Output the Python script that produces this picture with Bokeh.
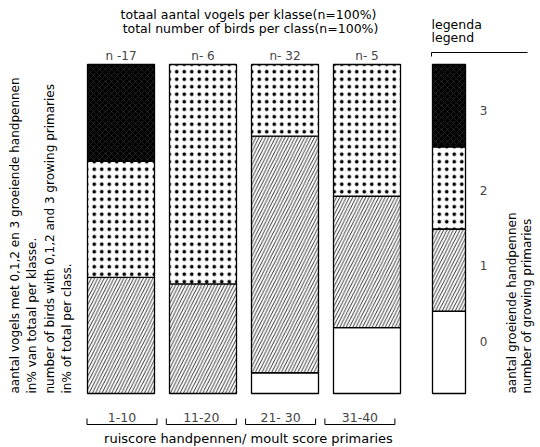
import math
from bokeh.plotting import figure
from bokeh.models import Range1d, Label
from bokeh.embed import file_html
from bokeh.resources import INLINE

# ---------------- data ----------------
classes = ["1-10", "11-20", "21- 30", "31-40"]
n_labels = ["n -17", "n- 6", "n- 32", "n- 5"]
# percentage of birds with 0, 1, 2, 3 growing primaries per class
pct0 = [0.0, 0.0, 6.3, 20.0]
pct1 = [35.3, 33.3, 71.9, 40.0]
pct2 = [35.3, 66.7, 21.8, 40.0]
pct3 = [29.4, 0.0, 0.0, 0.0]
legend_levels = ["0", "1", "2", "3"]
legend_pct = [25.0, 25.0, 25.0, 25.0]

# ---------------- layout ----------------
W, H = 540, 447
X0, DX = 120.5, 82.0     # px of first class centre, px per class
Y0, DY = 393.0, 3.29     # px of 0 %, px per %
FONT = "DejaVu Sans"

def fx(px):
    return (px - X0) / DX

def fy(py):
    return (Y0 - py) / DY

p = figure(width=W, height=H, output_backend="svg", toolbar_location=None,
           x_range=Range1d(fx(0), fx(W)), y_range=Range1d(fy(H), fy(0)),
           min_border=0, min_border_left=0, min_border_right=0,
           min_border_top=0, min_border_bottom=0)
p.axis.visible = False
p.grid.visible = False
p.outline_line_color = None
p.background_fill_color = "white"
p.border_fill_color = "white"

styles = [
    dict(fill_color="white"),
    dict(fill_color="white", hatch_pattern="/", hatch_color="black",
         hatch_scale=6.5, hatch_weight=0.8),
    dict(fill_color="white", hatch_pattern=".", hatch_color="black",
         hatch_scale=7.5, hatch_weight=1.1),
    dict(fill_color="black", hatch_pattern="x", hatch_color="white",
         hatch_scale=6, hatch_weight=0.6, hatch_alpha=0.2),
]

BAR_W = 67 / DX
series = [pct0, pct1, pct2, pct3]
for i in range(len(classes)):
    bottom = 0.0
    for k, s in enumerate(series):
        v = s[i]
        if v > 0:
            p.vbar(x=[i], width=BAR_W, bottom=[bottom], top=[bottom + v],
                   line_color="black", line_width=1.3, **styles[k])
        bottom += v

# legend bar (as an extra stacked column)
LEG_X = 4
LEG_LABEL_PY = [341, 265, 190, 110]
bottom = 0.0
for k, v in enumerate(legend_pct):
    p.vbar(x=[LEG_X], width=33 / DX, bottom=[bottom], top=[bottom + v],
           line_color="black", line_width=1.3, **styles[k])
    p.add_layout(Label(x=fx(483), y=fy(LEG_LABEL_PY[k]), text=legend_levels[k],
                       text_font=FONT, text_font_size="12px",
                       text_align="center", text_baseline="middle"))
    bottom += v

def label(px, py, text, align="center", angle=0.0, size="12.5px"):
    p.add_layout(Label(x=fx(px), y=fy(py), text=text, angle=angle,
                       text_font=FONT, text_font_size=size,
                       text_align=align, text_baseline="middle",
                       text_color="black"))

# n labels above bars
for i, t in enumerate(n_labels):
    p.add_layout(Label(x=i, y=fy(55), text=t, text_font=FONT,
                       text_font_size="12px", text_align="center",
                       text_baseline="middle"))

# titles
label(248, 14, "totaal aantal vogels per klasse(n=100%)")
label(250, 28, "total number of birds per class(n=100%)")
label(431, 24, "legenda", align="left")
label(431, 37, "legend", align="left")
p.segment(x0=[fx(431)], y0=[fy(52)], x1=[fx(527)], y1=[fy(52)],
          line_color="black", line_width=1)
p.segment(x0=[fx(431)], y0=[fy(52)], x1=[fx(431)], y1=[fy(56)],
          line_color="black", line_width=1)

# left rotated texts
left_lines = ["aantal vogels met 0,1,2 en 3 groeiende handpennen",
              "in% van totaal per klasse.",
              "number of birds with 0,1,2 and 3 growing primaries",
              "in% of total per class."]
for j, t in enumerate(left_lines):
    label(14 + 17.5 * j, 393, t, align="left", angle=math.pi / 2, size="12px")

# right rotated texts
label(511, 393, "aantal groeiende handpennen", align="left",
      angle=math.pi / 2, size="12px")
label(526, 393, "number of growing primaries", align="left",
      angle=math.pi / 2, size="12px")

# bottom brackets with class labels
BR_STEP = 79.3 / DX
BR_HALF = 35 / DX
for i, t in enumerate(classes):
    c = fx(121.5) + i * BR_STEP
    p.segment(x0=[c - BR_HALF], y0=[fy(424)], x1=[c + BR_HALF], y1=[fy(424)],
              line_color="black", line_width=1)
    p.segment(x0=[c - BR_HALF, c + BR_HALF], y0=[fy(424), fy(424)],
              x1=[c - BR_HALF, c + BR_HALF], y1=[fy(418), fy(418)],
              line_color="black", line_width=1)
    p.add_layout(Label(x=c, y=fy(417), text=t, text_font=FONT,
                       text_font_size="12.5px", text_align="center",
                       text_baseline="middle"))

label(248, 438, "ruiscore handpennen/ moult score primaries", size="13px")

open("out.html", "w").write(file_html(p, INLINE))
